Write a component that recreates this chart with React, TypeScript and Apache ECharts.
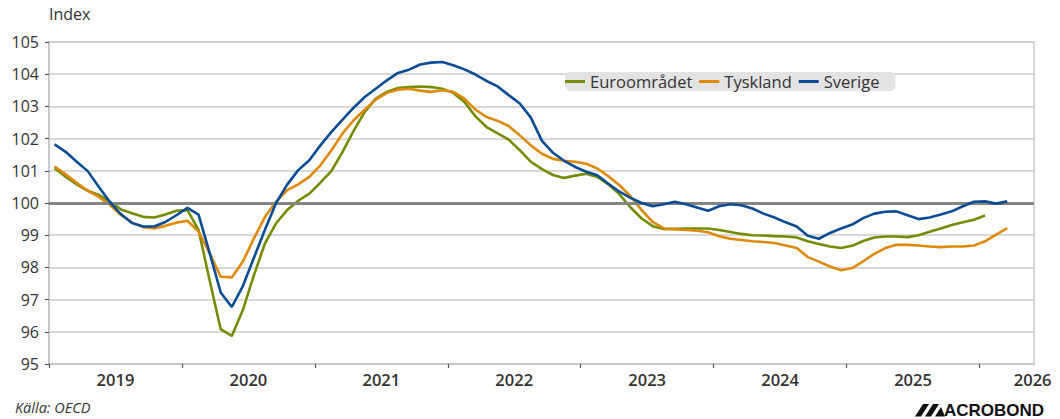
import React, { useEffect, useRef } from "react";
import * as echarts from "echarts";

const START_YEAR = 2019;
const YEAR_TICKS = [2019, 2020, 2021, 2022, 2023, 2024, 2025, 2026];
const YEAR_LABEL_POS = [2019.5, 2020.5, 2021.5, 2022.5, 2023.5, 2024.5, 2025.5, 2026.4];

const SERIES_NAMES = ["Euroområdet", "Tyskland", "Sverige"];
const SERIES_COLORS = ["#738c00", "#dd8a0a", "#0b4c94"];

// Monthly values from Jan 2019
const euroomradet = [
  101.08, 100.82, 100.58, 100.38, 100.25, 100.04, 99.8, 99.68, 99.57, 99.55, 99.64, 99.76,
  99.78, 99.16, 97.6, 96.08, 95.87, 96.68, 97.76, 98.75, 99.37, 99.78, 100.07, 100.29,
  100.63, 101.0, 101.59, 102.24, 102.83, 103.24, 103.45, 103.57, 103.6, 103.62, 103.6, 103.55,
  103.42, 103.14, 102.69, 102.36, 102.16, 101.97, 101.64, 101.28, 101.05, 100.87, 100.78, 100.85,
  100.91, 100.81, 100.58, 100.27, 99.86, 99.52, 99.28, 99.19, 99.2, 99.21, 99.21, 99.21,
  99.16, 99.1, 99.04, 99.0, 98.99, 98.97, 98.96, 98.93, 98.81, 98.73, 98.65, 98.6,
  98.67, 98.82, 98.93, 98.96, 98.96, 98.94, 99.0, 99.11, 99.21, 99.32, 99.4, 99.48,
  99.61,
];

const tyskland = [
  101.13, 100.89, 100.63, 100.38, 100.19, 99.94, 99.63, 99.39, 99.25, 99.21, 99.29, 99.39,
  99.45, 99.11, 98.44, 97.71, 97.69, 98.18, 98.9, 99.57, 100.04, 100.4, 100.58, 100.81,
  101.17, 101.64, 102.16, 102.57, 102.9, 103.21, 103.42, 103.52, 103.55, 103.49, 103.45, 103.5,
  103.45, 103.24, 102.9, 102.67, 102.55, 102.39, 102.1, 101.79, 101.53, 101.37, 101.31, 101.28,
  101.22, 101.07, 100.83, 100.55, 100.21, 99.78, 99.41, 99.21, 99.18, 99.16, 99.14, 99.09,
  98.97, 98.89, 98.85, 98.81, 98.79, 98.76, 98.68, 98.6, 98.32, 98.18, 98.03, 97.91,
  97.98, 98.19, 98.42, 98.6, 98.7, 98.7, 98.68, 98.65, 98.63, 98.65, 98.65, 98.68,
  98.81, 99.02, 99.22,
];

const sverige = [
  101.82, 101.59, 101.28, 100.99, 100.5, 100.03, 99.65, 99.38, 99.27, 99.27, 99.41, 99.62,
  99.85, 99.64, 98.45, 97.22, 96.77, 97.42, 98.3, 99.18, 100.0, 100.57, 101.02, 101.33,
  101.79, 102.21, 102.59, 102.96, 103.29, 103.55, 103.81, 104.04, 104.14, 104.3, 104.36, 104.38,
  104.28, 104.15, 103.99, 103.79, 103.62, 103.35, 103.09, 102.65, 101.93, 101.56, 101.31, 101.12,
  100.97, 100.86, 100.6, 100.35, 100.16, 100.0, 99.9, 99.96, 100.04, 99.96, 99.86, 99.76,
  99.9, 99.96, 99.93, 99.83, 99.67, 99.55, 99.4, 99.27, 98.98, 98.89, 99.07, 99.21,
  99.33, 99.53, 99.67, 99.73, 99.74, 99.62, 99.5, 99.55, 99.64, 99.74, 99.9, 100.04,
  100.05, 99.98, 100.05,
];

const SERIES_VALUES = [euroomradet, tyskland, sverige];

const monthX = (i: number) => START_YEAR + (i + 0.5) / 12;
const toPairs = (vals: number[]) => vals.map((v, i) => [monthX(i), v]);

const AXIS_FONT = "'Open Sans', 'Liberation Sans', Arial, sans-serif";
const LEGEND_FONT = "'Open Sans', 'Noto Sans', sans-serif";
const TEXT_COLOR = "#333333";

export default function App() {
  const ref = useRef<HTMLDivElement>(null);

  useEffect(() => {
    if (!ref.current) return;
    const chart = echarts.init(ref.current, null, { renderer: "svg" });

    const series: any[] = SERIES_NAMES.map((name, k) => ({
      name,
      type: "line",
      data: toPairs(SERIES_VALUES[k]),
      showSymbol: false,
      symbol: "none",
      lineStyle: { color: SERIES_COLORS[k], width: 2.6 },
      itemStyle: { color: SERIES_COLORS[k] },
      z: 3 + k,
    }));
    series.push({
      name: "ref100",
      type: "line",
      data: [],
      z: 2,
      silent: true,
      markLine: {
        silent: true,
        symbol: "none",
        label: { show: false },
        lineStyle: { color: "#848484", width: 3, type: "solid" },
        data: [{ yAxis: 100 }],
      },
    });

    chart.setOption({
      animation: false,
      backgroundColor: "#ffffff",
      grid: {
        left: 49,
        right: 26,
        top: 42,
        bottom: 55,
        show: true,
        borderColor: "#cccccc",
        borderWidth: 1.5,
        backgroundColor: "transparent",
      },
      legend: {
        data: SERIES_NAMES,
        left: 565,
        top: 72,
        backgroundColor: "#e3e3e3",
        borderRadius: 5,
        padding: [1, 16, 1, 0],
        itemGap: 7,
        itemWidth: 20,
        itemHeight: 3,
        icon: "rect",
        textStyle: {
          fontFamily: LEGEND_FONT,
          fontSize: 16.5,
          color: TEXT_COLOR,
          padding: [0, 0, 0, 0],
        },
      },
      xAxis: {
        type: "value",
        min: START_YEAR,
        max: 2026.41,
        splitLine: { show: false },
        axisLine: { show: true, lineStyle: { color: "#c4c4c4", width: 1.5 } },
        axisTick: {
          show: true,
          customValues: YEAR_TICKS,
          length: 4,
          inside: false,
          lineStyle: { color: "#555555", width: 1.2 },
        },
        axisLabel: {
          customValues: YEAR_LABEL_POS,
          formatter: (v: number) => String(Math.floor(v)),
          fontFamily: AXIS_FONT,
          fontSize: 16.5,
          fontWeight: 600,
          color: TEXT_COLOR,
          margin: 7,
        },
      },
      yAxis: {
        type: "value",
        min: 95,
        max: 105,
        interval: 1,
        axisLine: { show: true, lineStyle: { color: "#c4c4c4", width: 1.5 } },
        axisTick: { show: true, length: 4, lineStyle: { color: "#555555", width: 1.2 } },
        splitLine: { show: true, lineStyle: { color: "#cdcdcd", width: 1.5 } },
        axisLabel: {
          fontFamily: AXIS_FONT,
          fontSize: 16,
          fontWeight: 500,
          color: TEXT_COLOR,
          margin: 10,
        },
      },
      graphic: [
        {
          type: "text",
          left: 49,
          top: 6,
          style: { text: "Index", fontFamily: AXIS_FONT, fontSize: 16, fontWeight: 500, fill: TEXT_COLOR },
        },
        {
          type: "text",
          left: 15,
          top: 400,
          style: {
            text: "Källa: OECD",
            fontFamily: AXIS_FONT,
            fontSize: 14.5,
            fontStyle: "italic",
            fill: TEXT_COLOR,
          },
        },
        {
          type: "polygon",
          shape: { points: [[915, 416.5], [923, 404], [929, 404], [921, 416.5]] },
          style: { fill: "#111111" },
        },
        {
          type: "polygon",
          shape: { points: [[925, 416.5], [933, 404], [939, 404], [931, 416.5]] },
          style: { fill: "#111111" },
        },
        {
          type: "polygon",
          shape: { points: [[935, 416.5], [941, 407], [945, 416.5]] },
          style: { fill: "#111111" },
        },
        {
          type: "text",
          left: 944,
          top: 402,
          style: {
            text: "ACROBOND",
            fontFamily: "'Liberation Sans', Arial, sans-serif",
            fontSize: 17,
            fontWeight: "bold",
            fill: "#111111",
          },
        },
      ],
      series,
    });

    return () => chart.dispose();
  }, []);

  return (
    <div
      ref={ref}
      style={{ position: "fixed", left: 0, top: 0, width: 1060, height: 419, background: "#fff" }}
    />
  );
}
